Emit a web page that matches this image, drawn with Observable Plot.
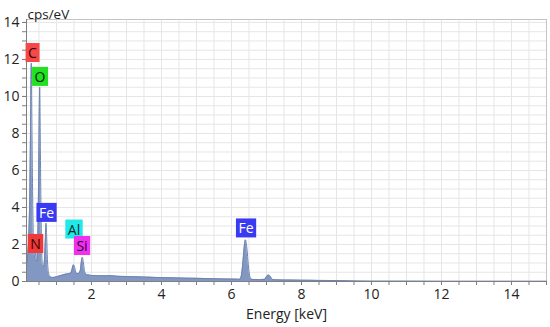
<!DOCTYPE html>
<html>
<head>
<meta charset="utf-8">
<script src="https://cdn.jsdelivr.net/npm/d3@7"></script>
<script src="https://cdn.jsdelivr.net/npm/@observablehq/plot@0.6"></script>
<style>
  html, body { margin: 0; padding: 0; background: #fff; }
  #chart { width: 550px; height: 327px; }
  svg { font-family: "Open Sans", "Noto Sans", sans-serif; }
</style>
</head>
<body>
<div id="chart"></div>
<script>
// Spectrum: energy (keV) and counts (cps/eV)
const energy = [0.143, 0.18, 0.21, 0.24, 0.26, 0.28, 0.30, 0.32, 0.34, 0.36, 0.38, 0.40, 0.42, 0.44, 0.46, 0.48, 0.50, 0.52, 0.54, 0.56, 0.58, 0.60, 0.63, 0.66, 0.68, 0.70, 0.72, 0.74, 0.77, 0.80, 0.85, 0.90, 1.00, 1.10, 1.20, 1.30, 1.38, 1.43, 1.47, 1.49, 1.52, 1.56, 1.62, 1.68, 1.72, 1.74, 1.77, 1.81, 1.88, 2.00, 2.20, 2.40, 2.60, 2.70, 3.00, 3.30, 3.70, 4.00, 4.50, 5.00, 5.50, 6.00, 6.20, 6.25, 6.28, 6.32, 6.36, 6.40, 6.44, 6.48, 6.52, 6.56, 6.62, 6.80, 6.95, 7.00, 7.06, 7.12, 7.18, 7.50, 8.00, 8.50, 9.00, 9.50, 10.0, 11.0, 12.0, 13.0, 14.0, 15.0];
const cps = [0.8, 1.5, 2.5, 5.0, 8.5, 11.8, 8.0, 4.5, 2.2, 1.3, 1.4, 1.6, 1.2, 1.1, 2.0, 4.0, 7.5, 10.5, 7.0, 3.5, 1.5, 0.9, 0.8, 1.3, 2.2, 3.15, 2.4, 1.2, 0.5, 0.3, 0.23, 0.22, 0.25, 0.31, 0.37, 0.41, 0.43, 0.55, 0.85, 0.9, 0.75, 0.46, 0.43, 0.6, 1.2, 1.3, 1.0, 0.5, 0.36, 0.33, 0.31, 0.31, 0.31, 0.29, 0.27, 0.25, 0.23, 0.21, 0.19, 0.17, 0.15, 0.13, 0.12, 0.14, 0.3, 0.9, 1.8, 2.25, 1.8, 0.9, 0.3, 0.14, 0.11, 0.1, 0.12, 0.25, 0.35, 0.25, 0.1, 0.08, 0.07, 0.06, 0.05, 0.03, 0.02, 0.02, 0.01, 0.01, 0.01, 0.01];

// Peak labels
const labelText = ["C", "O", "Fe", "N", "Al", "Si", "Fe"];
const labelX = [0.314, 0.529, 0.714, 0.40, 1.50, 1.73, 6.414];
const labelY = [12.32, 11.03, 3.68, 2.0, 2.78, 1.89, 2.84];
const labelFill = ["#f54848", "#22e022", "#3a3af2", "#f03a3a", "#22e8e8", "#f030f0", "#3a3af2"];
const labelInk = ["#3a0000", "#002800", "#ffffff", "#3a0000", "#003030", "#300030", "#ffffff"];

// Axis ticks
const yTicks = [0, 2, 4, 6, 8, 10, 12, 14];
const xTicks = [2, 4, 6, 8, 10, 12, 14];
const yMinor = d3.range(0, 14.01, 0.5);
const xMinor = d3.range(0.5, 15.01, 0.5);

const spectrum = energy.map((e, i) => ({e, v: cps[i]}));
const labels = labelText.map((t, i) => ({t, x: labelX[i], y: labelY[i], fill: labelFill[i], ink: labelInk[i]}));

const xDomain = [0.143, 15];
const yDomain = [0, 14.16];

const plot = Plot.plot({
  width: 550,
  height: 327,
  marginLeft: 26,
  marginRight: 4,
  marginTop: 19,
  marginBottom: 46,
  style: {fontSize: "13px", fontFamily: "'Open Sans', 'Noto Sans', sans-serif", color: "#222"},
  x: {domain: xDomain},
  y: {domain: yDomain},
  marks: [
    Plot.gridX(xMinor, {stroke: "#e6e6e6", strokeOpacity: 1}),
    Plot.gridY(yMinor.filter(d => d > 0), {stroke: "#e6e6e6", strokeOpacity: 1}),
    Plot.frame({stroke: "#c4c4c4"}),
    Plot.areaY(spectrum, {x: "e", y: "v", fill: "#8298c2", curve: "monotone-x"}),
    Plot.lineY(spectrum, {x: "e", y: "v", stroke: "#6d84b3", strokeWidth: 1, curve: "monotone-x"}),
    Plot.ruleX([xDomain[0]], {stroke: "#7f7f7f"}),
    Plot.ruleY([0], {stroke: "#7f7f7f"}),
    Plot.axisY(yMinor, {tickSize: 4, text: null, stroke: "#7f7f7f", label: null}),
    Plot.axisY(yTicks, {tickSize: 4, tickPadding: 3, stroke: "#7f7f7f", label: null, fill: "#222", fontSize: 14}),
    Plot.axisX(xMinor, {tickSize: 4, text: null, stroke: "#7f7f7f", label: null}),
    Plot.axisX(xTicks, {tickSize: 4, tickPadding: 4, stroke: "#7f7f7f", label: null, fill: "#222", fontSize: 14}),
    Plot.text(["cps/eV"], {frameAnchor: "top-left", textAnchor: "start", dx: 1, dy: -10, fill: "#222", fontSize: 13.5}),
    Plot.text(["Energy [keV]"], {frameAnchor: "bottom", dy: 37, fill: "#222", fontSize: 14}),
    Plot.text(labels, {x: "x", y: "y", text: "t", fill: "ink", fontSize: 14})
  ]
});

document.getElementById("chart").appendChild(plot);

// Colored boxes behind peak labels
try {
  const groups = Array.from(plot.querySelectorAll("g"));
  let g = null;
  for (const cand of groups) {
    const ts = Array.from(cand.children).filter(c => c.tagName.toLowerCase() === "text");
    if (ts.length === labelText.length && ts.every((t, i) => t.textContent === labelText[i])) g = cand;
  }
  if (g) {
    const texts = Array.from(g.children).filter(c => c.tagName.toLowerCase() === "text");
    texts.forEach((t, i) => {
      const bb = t.getBBox();
      const padX = 2.5, h = 19;
      const r = document.createElementNS("http://www.w3.org/2000/svg", "rect");
      const cy = bb.y + bb.height / 2;
      r.setAttribute("x", bb.x - padX);
      r.setAttribute("y", cy - h / 2);
      r.setAttribute("width", bb.width + 2 * padX);
      r.setAttribute("height", h);
      r.setAttribute("fill", labels[i].fill);
      const tr = t.getAttribute("transform");
      if (tr) r.setAttribute("transform", tr);
      g.insertBefore(r, t);
    });
  }
} catch (e) { console.error(e); }
</script>
</body>
</html>
